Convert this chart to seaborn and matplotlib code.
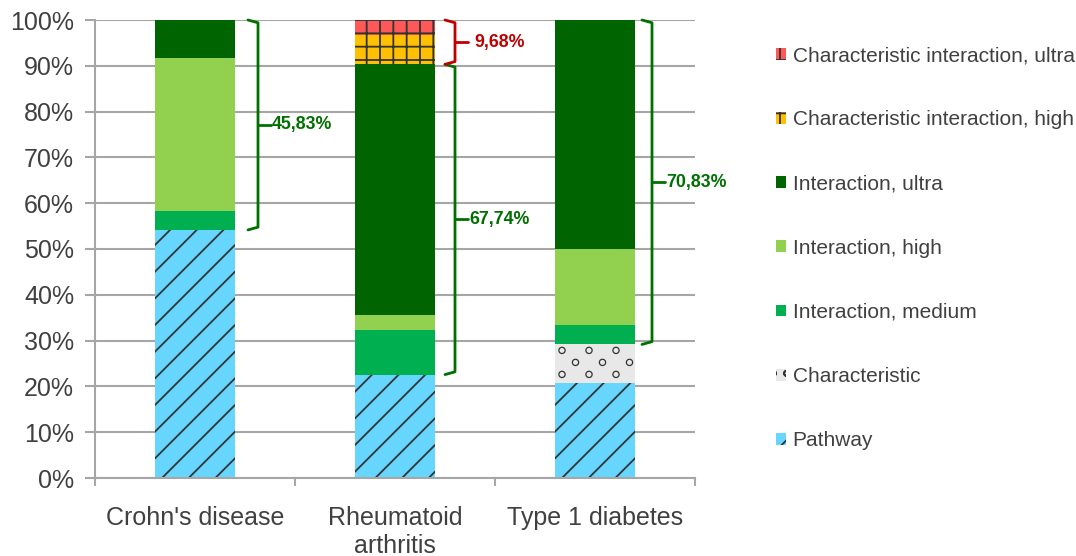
import matplotlib
matplotlib.use("Agg")
import matplotlib.pyplot as plt
from matplotlib.patches import Patch
import seaborn as sns
import numpy as np

# Share of associations per disease (%)
diseases = ["Crohn's disease", "Rheumatoid\narthritis", "Type 1 diabetes"]
pathway = [54.17, 22.58, 20.84]
characteristic = [0.00, 0.00, 8.33]
interaction_medium = [4.17, 9.68, 4.17]
interaction_high = [33.33, 3.23, 16.66]
interaction_ultra = [8.33, 54.83, 50.00]
char_interaction_high = [0.00, 6.45, 0.00]
char_interaction_ultra = [0.00, 3.23, 0.00]

y_ticks = [0, 10, 20, 30, 40, 50, 60, 70, 80, 90, 100]

sns.set_theme(style="white")
plt.rcParams["font.family"] = ["Liberation Sans", "DejaVu Sans"]

DPI = 80
S = 100 / DPI  # point sizes are given for 100 dpi and scaled to the render dpi

TEXT = "#404040"
GRID = "#A6A6A6"
HATCH = "#333333"

# name, values, colour, hatch, hatch line width
layers = [
    ("Pathway", pathway, "#66D6FF", "/", 1.3),
    ("Characteristic", characteristic, "#E8E8E8", "", 1.0),
    ("Interaction, medium", interaction_medium, "#00B050", "", 1.0),
    ("Interaction, high", interaction_high, "#92D050", "", 1.0),
    ("Interaction, ultra", interaction_ultra, "#006400", "", 1.0),
    ("Characteristic interaction, high", char_interaction_high, "#FFC000", "+", 1.3),
    ("Characteristic interaction, ultra", char_interaction_ultra, "#FF5858", "+", 1.3),
]

fig = plt.figure(figsize=(1076 / DPI, 556 / DPI), dpi=DPI)
ax = fig.add_axes([95 / 1076, 1 - 478 / 556, 600 / 1076, 458 / 556])

bottom = np.zeros(len(diseases))
containers = {}
for name, vals, color, hatch, hlw in layers:
    plt.rcParams["hatch.linewidth"] = hlw * S
    n_before = len(ax.containers)
    sns.barplot(x=diseases, y=vals, bottom=bottom, color=color, saturation=1,
                width=0.4, hatch=hatch, edgecolor=HATCH, linewidth=0, ax=ax)
    containers[name] = ax.containers[n_before]
    bottom = bottom + np.array(vals)

ax.set_ylim(0, 100)
ax.set_xlim(-0.5, 2.5)
ax.set_yticks(y_ticks)
ax.set_yticklabels([f"{t}%" for t in y_ticks])
ax.yaxis.grid(True, color=GRID, linewidth=1.5 * S)
ax.set_axisbelow(True)
ax.set_xlabel("")
ax.set_ylabel("")

# sparse staggered ring texture on the "Characteristic" segments
to_px = ax.transData
from_px = ax.transData.inverted()
for bar in containers["Characteristic"]:
    if bar.get_height() <= 0:
        continue
    x0, y0 = to_px.transform((bar.get_x(), bar.get_y()))
    x1, y1 = to_px.transform((bar.get_x() + bar.get_width(), bar.get_y() + bar.get_height()))
    pts = []
    row = 0
    yy = y1 - 6
    while yy > y0 + 3:
        xx = x0 + (7 if row % 2 == 0 else 20.5)
        while xx < x1 - 3:
            pts.append((xx, yy))
            xx += 27
        yy -= 12
        row += 1
    if pts:
        d = from_px.transform(np.array(pts))
        ax.scatter(d[:, 0], d[:, 1], s=(4.5 * S) ** 2, marker="o", facecolors="none",
                   edgecolors=HATCH, linewidths=0.9 * S, zorder=3)

# category boundaries as tick marks, names centred between them
ax.set_xticks([-0.5, 0.5, 1.5, 2.5])
ax.set_xticklabels([])
ax.set_xticks([0, 1, 2], minor=True)
ax.set_xticklabels(diseases, minor=True)
ax.tick_params(axis="x", which="major", length=6 * S, width=1.5 * S, color=GRID,
               direction="out", bottom=True)
ax.tick_params(axis="x", which="minor", length=0, pad=20 * S, labelsize=18 * S, labelcolor=TEXT)
ax.tick_params(axis="y", length=7 * S, width=1.5 * S, color=GRID, direction="out", left=True,
               pad=8 * S, labelsize=18 * S, labelcolor=TEXT)

for s in ["top", "right"]:
    ax.spines[s].set_visible(False)
for s in ["left", "bottom"]:
    ax.spines[s].set_color(GRID)
    ax.spines[s].set_linewidth(1.5 * S)


def brace(xc, lo, hi, color, text, gap=0.07):
    hook = 0.05
    ax.plot([xc - hook, xc, xc, xc - hook], [hi, hi - 0.6, lo + 0.6, lo],
            color=color, lw=2 * S, solid_joinstyle="round", clip_on=False)
    mid = (lo + hi) / 2
    ax.plot([xc, xc + 0.065], [mid, mid], color=color, lw=2 * S, clip_on=False)
    ax.text(xc + gap, mid, text, color=color, fontsize=12.8 * S, fontweight="bold",
            va="center", ha="left")


def pct(v):
    return f"{v:.2f}%".replace(".", ",")


cum_char = np.array(pathway) + np.array(characteristic)
inter_sum = np.array(interaction_medium) + np.array(interaction_high) + np.array(interaction_ultra)
char_inter_sum = np.array(char_interaction_high) + np.array(char_interaction_ultra)

offsets = [0.315, 0.3, 0.285]
for i in range(len(diseases)):
    lo = cum_char[i]
    hi = lo + inter_sum[i]
    brace(i + offsets[i], lo, hi, "#007000", pct(inter_sum[i]))
    if char_inter_sum[i] > 0:
        brace(i + offsets[i], hi, hi + char_inter_sum[i], "#C00000", pct(char_inter_sum[i]),
              gap=0.095)

handles = []
for n, _, c, h, hlw in layers[::-1]:
    plt.rcParams["hatch.linewidth"] = hlw * S
    if n == "Characteristic":
        h = "o"
    handles.append(Patch(facecolor=c, edgecolor=HATCH, linewidth=0, hatch=h, label=n))
fig.legend(handles=handles, loc="upper left", bbox_to_anchor=(776 / 1076, 1 - 46 / 556),
           frameon=False, fontsize=15 * S, labelcolor=TEXT, handlelength=0.5, handleheight=0.5,
           handletextpad=0.3, labelspacing=2.17, borderpad=0, borderaxespad=0)

fig.savefig("out.png", dpi=DPI)
